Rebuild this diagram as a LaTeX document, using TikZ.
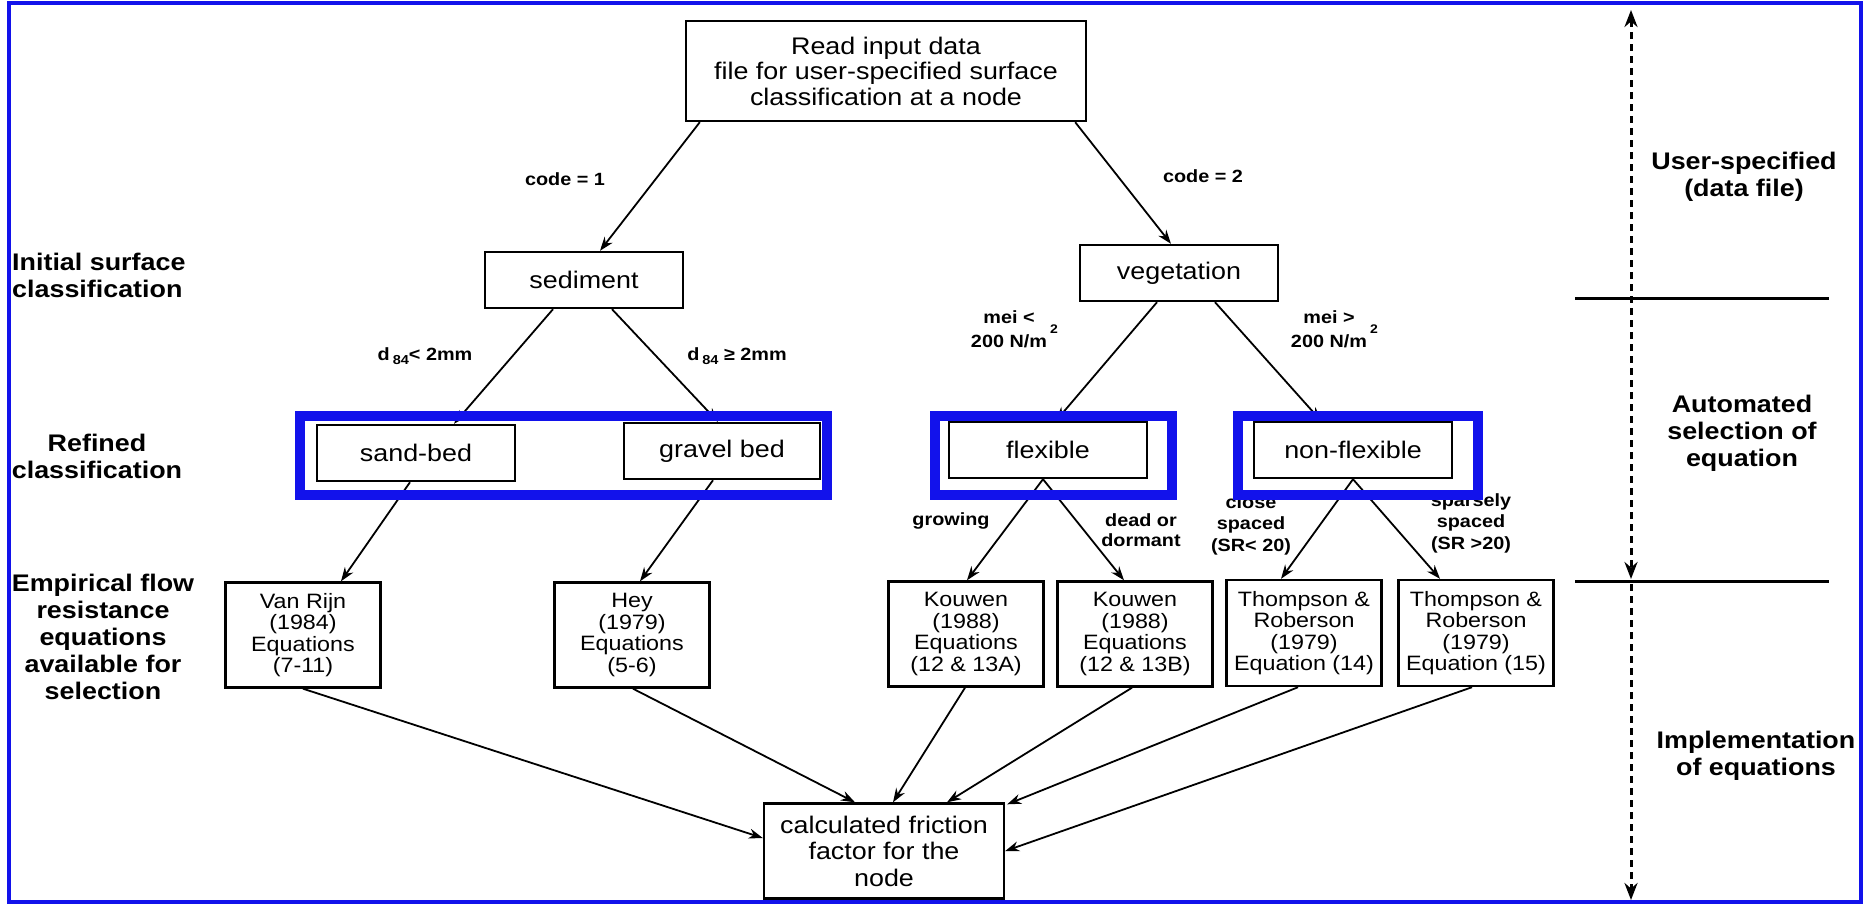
\documentclass[tikz,border=0pt]{standalone}
\usepackage{fontspec}
\setmainfont{Liberation Sans}[FakeStretch=1.12]
\usetikzlibrary{arrows.meta,calc}
\definecolor{framebl}{RGB}{18,18,235}
\newcommand{\fsz}[2]{\fontsize{#1}{#2}\selectfont}
\newcommand{\sub}[1]{\,\raisebox{-0.45ex}{\fsz{13}{13}#1}}
\newcommand{\squared}{\rlap{\hspace{3pt}\raisebox{14pt}{\fsz{12.5}{12.5}2}}}

\begin{document}
\begin{tikzpicture}[x=1pt,y=-1pt,
  box/.style={draw, line width=2.4pt, inner sep=0pt, align=center, font=\fsz{24}{25.5}},
  classbox/.style={box, minimum width=198, minimum height=56},
  eqbox/.style={box, minimum width=155, minimum height=105, font=\fsz{20.8}{21.5}},
  conn/.style={line width=1.8pt, -{Stealth[length=14pt,width=10pt]}},
  lbl/.style={font=\bfseries\fsz{17.7}{20}, align=center, inner sep=0pt},
  side/.style={font=\bfseries\fsz{24}{27}, align=center, inner sep=0pt},
  bluebar/.style={draw=framebl, line width=10pt},
  dashv/.style={line width=3pt, dash pattern=on 7pt off 5pt},
  rule/.style={line width=3pt},
  vtip/.tip={Stealth[length=17pt,width=13pt]},
]
\useasboundingbox (0,0) rectangle (1864,905);

% ---- flowchart boxes ----
\node[box, minimum width=400, minimum height=100] (top) at (886,71)
  {Read input data\\file for user-specified surface\\classification at a node};
\node[classbox] (sed) at (584,280) {sediment};
\node[classbox] (veg) at (1179,273) {vegetation};
\node[classbox] (sand) at (416,453) {sand-bed};
\node[classbox, minimum width=196] (grav) at (722,451) {gravel bed};
\node[classbox] (flex) at (1048,450) {flexible};
\node[classbox] (nflex) at (1353,450) {non-flexible};

\node[eqbox] (vr) at (303,635) {Van Rijn\\(1984)\\Equations\\(7-11)};
\node[eqbox] (hey) at (632,635) {Hey\\(1979)\\Equations\\(5-6)};
\node[eqbox] (ka) at (966,634) {Kouwen\\(1988)\\Equations\\(12 \& 13A)};
\node[eqbox] (kb) at (1135,634) {Kouwen\\(1988)\\Equations\\(12 \& 13B)};
\node[eqbox, minimum height=106] (t14) at (1304,633) {Thompson \&\\Roberson\\(1979)\\Equation (14)};
\node[eqbox, minimum height=106] (t15) at (1476,633) {Thompson \&\\Roberson\\(1979)\\Equation (15)};

\node[box, minimum width=240, minimum height=95, font=\fsz{24}{26.5}] (ff) at (884,851)
  {calculated friction\\factor for the\\node};

% ---- connectors ----
\draw[conn] ($(top.south west)+(15,0)$) -- ($(sed.north)+(16,0)$);
\draw[conn] ($(top.south east)+(-12,0)$) -- ($(veg.north)+(-8,0)$);
\draw[conn] ($(sed.south)+(-31,0)$) -- ($(sand.north)+(38,0)$);
\draw[conn] ($(sed.south)+(28,0)$) -- ($(grav.north)+(-4,0)$);
\draw[conn] ($(veg.south)+(-22,0)$) -- ($(flex.north)+(8,0)$);
\draw[conn] ($(veg.south)+(36,0)$) -- ($(nflex.north)+(-32,0)$);

\draw[conn] ($(sand.south)+(-6,0)$) -- ($(vr.north)+(38,0)$);
\draw[conn] ($(grav.south)+(-9,0)$) -- ($(hey.north)+(8,0)$);
\draw[conn] ($(flex.south)+(-5,0)$) -- ($(ka.north)+(1,0)$);
\draw[conn] ($(flex.south)+(-5,0)$) -- ($(kb.north)+(-11,0)$);
\draw[conn] (nflex.south) -- ($(t14.north)+(-23,0)$);
\draw[conn] (nflex.south) -- ($(t15.north)+(-36,0)$);

\draw[conn] (vr.south) -- ($(ff.west)+(0,-13)$);
\draw[conn] ($(hey.south)+(1,0)$) -- ($(ff.north)+(-29,0)$);
\draw[conn] ($(ka.south)+(-1,0)$) -- ($(ff.north)+(9,0)$);
\draw[conn] ($(kb.south)+(-3,0)$) -- ($(ff.north)+(63,0)$);
\draw[conn] ($(t14.south)+(-6,0)$) -- ($(ff.north east)+(2,2)$);
\draw[conn] ($(t15.south)+(-4,0)$) -- (ff.east);

% ---- branch conditions ----
\node[lbl] (c1) at (565,179) {code = 1};
\node[lbl] (c2) at (1203,176) {code = 2};
\node[lbl] (dlt) at (425,356) {d\sub{84}< 2mm};
\node[lbl] (dge) at (737,356) {d\sub{84} ≥ 2mm};
\node[lbl, font=\bfseries\fsz{17.7}{18.5}] (mlt) at (1009,329) {mei <\\200 N/m\squared};
\node[lbl, font=\bfseries\fsz{17.7}{18.5}] (mgt) at (1329,329) {mei >\\200 N/m\squared};
\node[lbl] (grow) at (951,521) {growing};
\node[lbl] (dead) at (1141,530) {dead or\\dormant};
\node[lbl, font=\bfseries\fsz{17.7}{21.5}] (close) at (1251,525) {close\\spaced\\(SR< 20)};
\node[lbl, font=\bfseries\fsz{17.7}{21.5}] (sparse) at (1471,523) {sparsely\\spaced\\(SR >20)};

% ---- grouping frames around the refined classes ----
\draw[bluebar] (300,416) rectangle (827,495);
\draw[bluebar] (935,416) rectangle (1172,495);
\draw[bluebar] (1238,416) rectangle (1478,495);

% ---- level captions on the left ----
\node[side, align=left, anchor=west] (lvl1) at (12,275) {Initial surface\\classification};
\node[side] (lvl2) at (97,456) {Refined\\classification};
\node[side] (lvl3) at (103,637) {Empirical flow\\resistance\\equations\\available for\\selection};

% ---- stage captions and scale on the right ----
\node[side] (st1) at (1744,177) {User-specified\\(data file)};
\node[side] (st2) at (1742,433) {Automated\\selection of\\equation};
\node[side] (st3) at (1756,756) {Implementation\\of equations};

\coordinate (ra1) at (1575,298);
\coordinate (rb1) at (1829,298);
\coordinate (ra2) at (1575,581);
\coordinate (rb2) at (1829,581);
\draw[rule] (ra1) -- (rb1);
\draw[rule] (ra2) -- (rb2);

\coordinate (vtop) at (1631,10);
\coordinate (vmid) at (1631,579);
\coordinate (vlow) at (1631,584);
\coordinate (vbot) at (1631,900);
\draw[dashv, vtip-vtip] (vtop) -- (vmid);
\draw[dashv, -vtip] (vlow) -- (vbot);

% ---- outer frame ----
\draw[draw=framebl, line width=4pt] (9,3) rectangle (1861,902);
\end{tikzpicture}
\end{document}
